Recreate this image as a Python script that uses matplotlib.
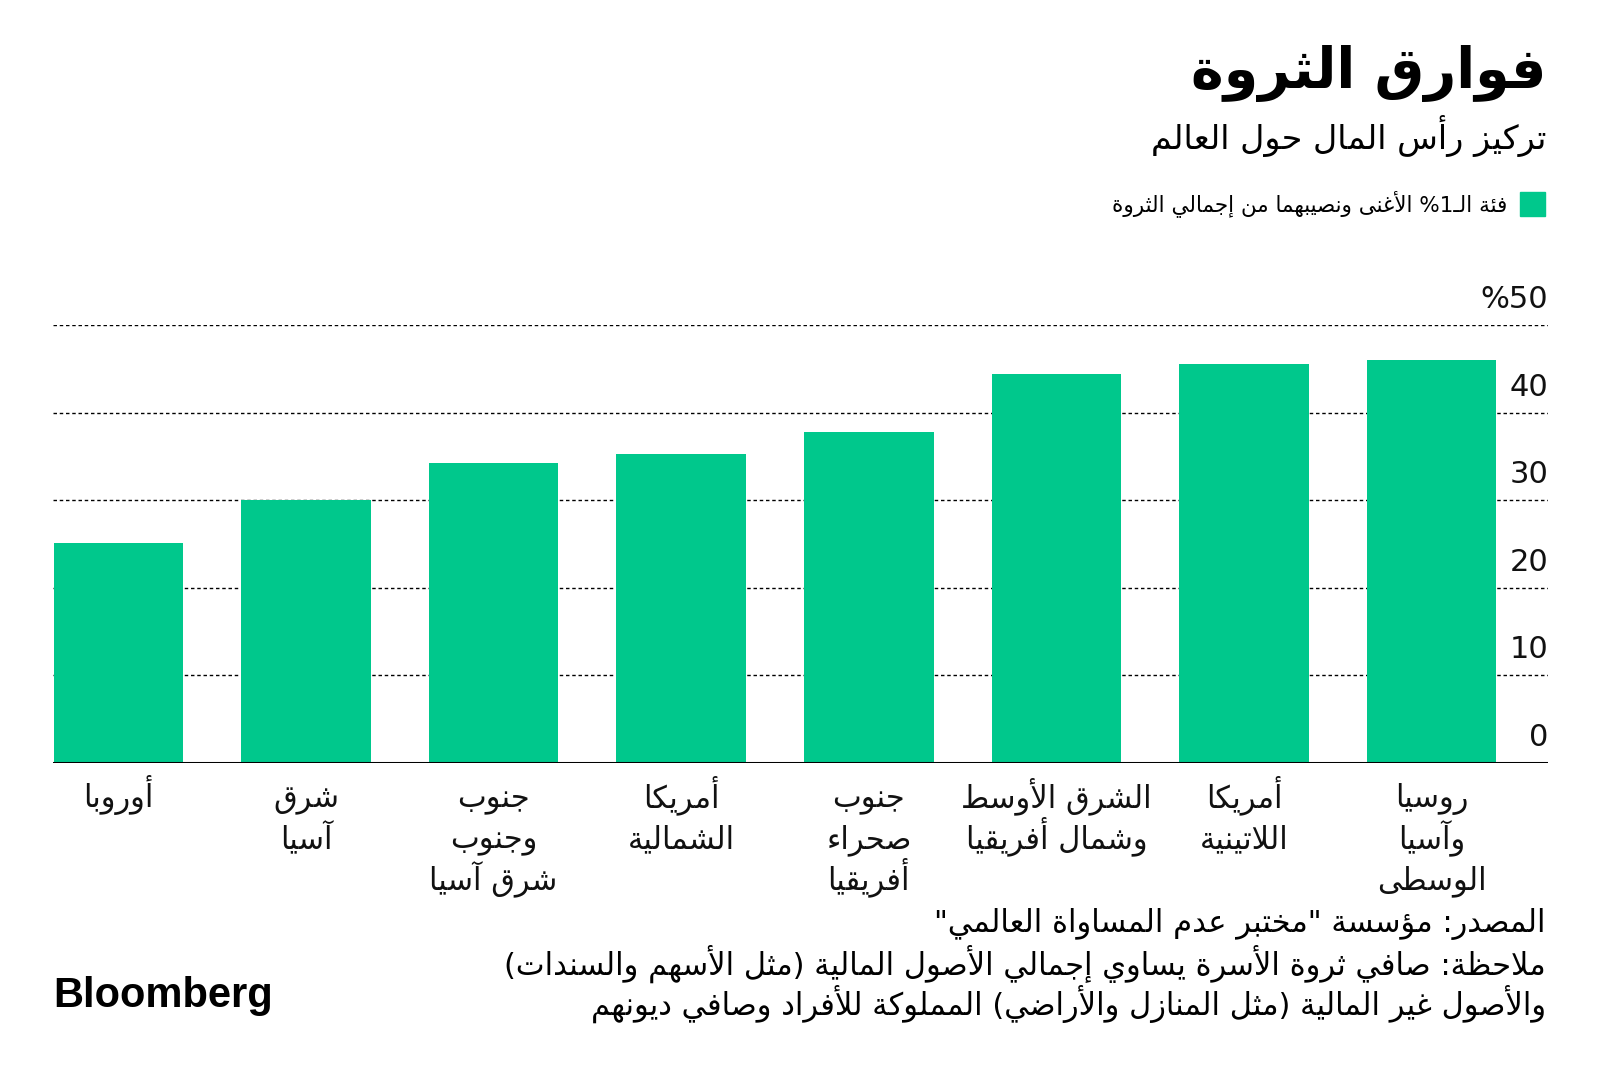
import re
import matplotlib
matplotlib.use("Agg")
import matplotlib.pyplot as plt
import matplotlib.transforms as mtransforms
from matplotlib.patches import Rectangle

# ---- data ----
regions = ["أوروبا", "شرق\nآسيا", "جنوب\nوجنوب\nشرق آسيا", "أمريكا\nالشمالية",
           "جنوب\nصحراء\nأفريقيا", "الشرق الأوسط\nوشمال أفريقيا", "أمريكا\nاللاتينية",
           "روسيا\nوآسيا\nالوسطى"]
top1_share = [25.1, 30.0, 34.2, 35.3, 37.8, 44.4, 45.6, 46.0]
y_ticks = [0, 10, 20, 30, 40, 50]
y_tick_labels = ["0", "10", "20", "30", "40", "50%"]

title = "فوارق الثروة"
subtitle = "تركيز رأس المال حول العالم"
legend_label = "فئة الـ1% الأغنى ونصيبهما من إجمالي الثروة"
footer = ['المصدر: مؤسسة "مختبر عدم المساواة العالمي"',
          "ملاحظة: صافي ثروة الأسرة يساوي إجمالي الأصول المالية (مثل الأسهم والسندات)",
          "والأصول غير المالية (مثل المنازل والأراضي) المملوكة للأفراد وصافي ديونهم"]

GREEN = "#00c88c"

# ---- minimal arabic shaping + rtl reordering (no bidi libs available) ----
_forms = {
    'ء': (0xFE80, 1), 'آ': (0xFE81, 2), 'أ': (0xFE83, 2), 'ؤ': (0xFE85, 2), 'إ': (0xFE87, 2),
    'ئ': (0xFE89, 4), 'ا': (0xFE8D, 2), 'ب': (0xFE8F, 4), 'ة': (0xFE93, 2), 'ت': (0xFE95, 4),
    'ث': (0xFE99, 4), 'ج': (0xFE9D, 4), 'ح': (0xFEA1, 4), 'خ': (0xFEA5, 4), 'د': (0xFEA9, 2),
    'ذ': (0xFEAB, 2), 'ر': (0xFEAD, 2), 'ز': (0xFEAF, 2), 'س': (0xFEB1, 4), 'ش': (0xFEB5, 4),
    'ص': (0xFEB9, 4), 'ض': (0xFEBD, 4), 'ط': (0xFEC1, 4), 'ظ': (0xFEC5, 4), 'ع': (0xFEC9, 4),
    'غ': (0xFECD, 4), 'ف': (0xFED1, 4), 'ق': (0xFED5, 4), 'ك': (0xFED9, 4), 'ل': (0xFEDD, 4),
    'م': (0xFEE1, 4), 'ن': (0xFEE5, 4), 'ه': (0xFEE9, 4), 'و': (0xFEED, 2), 'ى': (0xFEEF, 2),
    'ي': (0xFEF1, 4),
}
_lamalef = {'آ': 0xFEF5, 'أ': 0xFEF7, 'إ': 0xFEF9, 'ا': 0xFEFB}
_mirror = {'(': ')', ')': '('}


def _shape_line(s):
    units = []  # (char, base, nforms)
    i = 0
    while i < len(s):
        c = s[i]
        if c == 'ل' and i + 1 < len(s) and s[i + 1] in _lamalef:
            units.append((c, _lamalef[s[i + 1]], 2))
            i += 2
            continue
        if c == 'ـ':
            units.append((c, None, 4))
        elif c in _forms:
            units.append((c, *_forms[c]))
        else:
            units.append((c, None, 0))
        i += 1

    out = []
    for k, (c, base, n) in enumerate(units):
        if base is None:
            out.append(c)
            continue
        prev = k > 0 and units[k - 1][2] == 4
        nxt = n == 4 and k + 1 < len(units) and units[k + 1][2] >= 2
        if n == 1:
            f = 0
        elif prev and nxt:
            f = 3
        elif prev:
            f = 1
        elif nxt:
            f = 2
        else:
            f = 0
        out.append(chr(base + f))
    shaped = "".join(out)
    tokens = re.findall(r"[0-9]+|.", shaped)
    return "".join(_mirror.get(t, t) for t in reversed(tokens))


def ar(s):
    return "\n".join(_shape_line(line) for line in s.split("\n"))


# ---- figure ----
W, H = 1600, 1074
fig = plt.figure(figsize=(W / 100, H / 100), dpi=100)
plt.rcParams['font.family'] = ['DejaVu Sans']


def fx(x):
    return x / W


def fy(y):
    return 1 - y / H


ax = fig.add_axes([fx(53), fy(763), fx(1548) - fx(53), fy(325) - fy(763)])
x = list(range(len(regions)))
ax.bar(x, top1_share, width=0.69, color=GREEN, zorder=2)
ax.set_xlim(-0.348, 7.62)
ax.set_ylim(0, 50)

for t in y_ticks[1:]:
    ax.axhline(t, color="black", lw=1.0, linestyle=(0, (2.5, 2)), zorder=1)
ax.axhline(0, color="black", lw=2.2, zorder=3)

for s in ax.spines.values():
    s.set_visible(False)
ax.set_xticks([])
ax.set_yticks([])

lab_tr = mtransforms.offset_copy(ax.get_yaxis_transform(), fig=fig, x=0, y=11, units="dots")
for t, lab in zip(y_ticks, y_tick_labels):
    ax.text(1.0, t, ar(lab), transform=lab_tr, ha="right", va="bottom",
            fontsize=22, color="#111111")

# category labels: one text per line so the line pitch stays even
for xi, lab in zip(x, regions):
    for j, line in enumerate(lab.split("\n")):
        tr = mtransforms.offset_copy(ax.get_xaxis_transform(), fig=fig,
                                     x=0, y=-(44 + 41 * j), units="dots")
        ax.text(xi, 0, ar(line), transform=tr, ha="center", va="baseline",
                fontsize=22, color="#111111")

# header
fig.text(fx(1546), fy(88), ar(title), ha="right", va="baseline",
         fontsize=40, fontweight="bold", color="black")
fig.text(fx(1546), fy(149), ar(subtitle), ha="right", va="baseline",
         fontsize=24, color="black")
fig.patches.append(Rectangle((fx(1520), fy(216)), fx(25), fy(192) - fy(216),
                             transform=fig.transFigure, color=GREEN))
fig.text(fx(1507), fy(204), ar(legend_label), ha="right", va="center",
         fontsize=15.5, color="black")

# footer
for i, line in enumerate(footer):
    fig.text(fx(1546), fy(924 + 40 * i), ar(line), ha="right", va="center",
             fontsize=22, color="black")

fig.text(fx(53), fy(996), "Bloomberg", ha="left", va="center",
         fontsize=30, fontweight="bold", family="Liberation Sans", color="black")

fig.savefig("out.png", dpi=100, facecolor="white")
